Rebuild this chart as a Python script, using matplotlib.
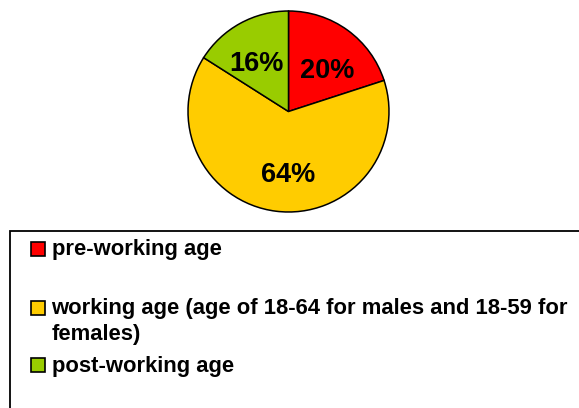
import matplotlib.pyplot as plt
from matplotlib.patches import Rectangle

# data
categories = ["pre-working age",
              "working age (age of 18-64 for males and 18-59 for\nfemales)",
              "post-working age"]
shares = [20, 64, 16]
colors = ["#FF0000", "#FFCC00", "#99CC00"]

plt.rcParams['font.family'] = ['Liberation Sans', 'DejaVu Sans']
plt.rcParams['font.weight'] = 'bold'

W, H = 579, 408
fig = plt.figure(figsize=(W / 100, H / 100), dpi=100)

# pie, centered at about (288, 111) px with radius ~101 px
ax = fig.add_axes([187 / W, 1 - 213 / H, 203 / W, 203 / H])
wedges, texts, autotexts = ax.pie(
    shares, colors=colors, startangle=90, counterclock=False,
    autopct='%1.0f%%', pctdistance=0.6,
    wedgeprops=dict(edgecolor='black', linewidth=1.1),
    textprops=dict(fontsize=19.5, fontweight='bold', color='black'))
ax.set_xlim(-1.01, 1.01)
ax.set_ylim(-1.01, 1.01)
ax.set_aspect('equal')

# small nudges of the percent labels (px: right, down), radius ~101 px
nudges = [(3, 8), (7, 4), (-3, 5)]
for t, (dx, dy) in zip(autotexts, nudges):
    x, y = t.get_position()
    t.set_position((x + dx / 101, y - dy / 101))

# legend box (runs off the right and bottom edges)
box = Rectangle((10 / W, -0.2), 1.2, 0.2 + 1 - 231 / H, transform=fig.transFigure,
                facecolor='white', edgecolor='black', linewidth=1.3, clip_on=False)
fig.patches.append(box)

# legend entries: square centres and first-line baselines in px
square_y = [248.7, 308, 365.3]
baseline_y = [255, 314, 371.7]
for lab, col, sy, by in zip(categories, colors, square_y, baseline_y):
    fig.patches.append(Rectangle((31 / W, 1 - (sy + 7) / H), 14 / W, 14 / H,
                                 transform=fig.transFigure, facecolor=col,
                                 edgecolor='black', linewidth=1.2))
    lines = lab.split('\n')
    for k, line in enumerate(lines):
        fig.text(51.5 / W, 1 - (by + 26 * k) / H, line, fontsize=15.8,
                 fontweight='bold', va='baseline', ha='left')

fig.savefig('out.png', dpi=100)
